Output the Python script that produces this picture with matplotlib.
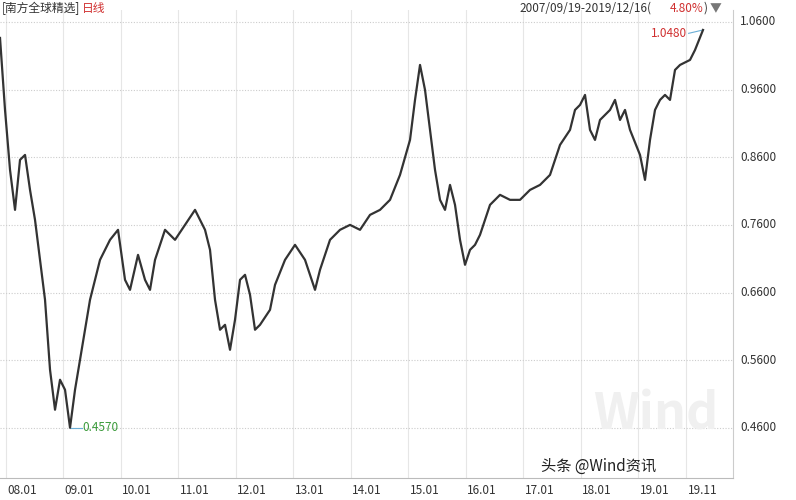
import matplotlib
matplotlib.use("Agg")
import matplotlib.pyplot as plt
import numpy as np

plt.rcParams['font.family'] = ['Noto Sans CJK SC', 'DejaVu Sans']

px = [0,5,10,15,20,25,30,35,40,45,50,55,60,65,70,75,80,85,90,95,100,110,118,125,130,138,145,150,155,165,175,185,195,205,210,215,220,225,230,235,240,245,250,255,260,270,275,285,295,305,315,320,330,340,350,360,370,380,390,400,410,415,420,425,430,435,440,445,450,455,460,465,470,475,480,490,500,510,520,530,540,550,560,570,575,580,585,590,595,600,610,615,620,625,630,640,645,650,655,660,665,670,675,680,690,695,703]
py = [38,110,170,210,160,155,190,220,260,300,370,410,380,390,428,390,360,330,300,280,260,240,230,280,290,255,280,290,260,230,240,225,210,230,250,300,330,325,350,320,280,275,295,330,325,310,285,260,245,260,290,270,240,230,225,230,215,210,200,175,140,100,65,90,130,170,200,210,185,205,240,265,250,245,235,205,195,200,200,190,185,175,145,130,110,105,95,130,140,120,110,100,120,110,130,155,180,140,110,100,95,100,70,65,60,50,30]
dates = [2008 + (x - 5.5) / 57.5 for x in px]
values = [round(1.06 - (y - 22) / 677, 4) for y in py]
tick_pos = [2008, 2009, 2010, 2011, 2012, 2013, 2014, 2015, 2016, 2017, 2018, 2019, 2019.833]
tick_lab = ["08.01","09.01","10.01","11.01","12.01","13.01","14.01","15.01","16.01","17.01","18.01","19.01","19.11"]
yticks = [0.46, 0.56, 0.66, 0.76, 0.86, 0.96, 1.06]

fig = plt.figure(figsize=(7.96, 5.0), dpi=100)
fig.text(0.745, 0.14, "Wind", fontsize=36, color='#f0f0f0', fontweight='bold', zorder=0)
ax = fig.add_axes([0, 0.044, 733/796, 0.936])
ax.patch.set_alpha(0)
ax.set_xlim(2007.904, 2020.652)
ax.set_ylim(0.386, 1.0777)
for t in tick_pos:
    ax.axvline(t, color='#e6e6e6', lw=0.8, zorder=0)
for y in yticks:
    ax.axhline(y, color='#cccccc', lw=0.8, ls=(0, (1, 1.5)), zorder=0)
ax.plot(dates, values, color='#333333', lw=1.6, zorder=3)
for s in ['top', 'left']:
    ax.spines[s].set_visible(False)
ax.spines['right'].set_color('#cccccc')
ax.spines['bottom'].set_color('#bbbbbb')
ax.set_xticks([]); ax.set_yticks([])
for t, l in zip(tick_pos, tick_lab):
    ax.text(t + 0.03, -0.012, l, transform=ax.get_xaxis_transform(), ha='left', va='top', fontsize=8.5, color='#333333')
for y in yticks:
    ax.text(1.01, y, f"{y:.4f}", transform=ax.get_yaxis_transform(), ha='left', va='center', fontsize=8.5, color='#333333')

i_min = int(np.argmin(values)); i_max = len(values) - 1
ax.plot([dates[i_min], dates[i_min] + 0.2], [values[i_min], values[i_min]], color='#6aaed6', lw=0.8)
ax.text(dates[i_min] + 0.22, values[i_min], "0.4570", color='#3a9a3a', fontsize=8.5, va='center')
ax.plot([dates[i_max], dates[i_max] - 0.25], [values[i_max], values[i_max] - 0.005], color='#6aaed6', lw=0.8)
ax.text(dates[i_max] - 0.27, values[i_max] - 0.005, "1.0480", color='#d03030', fontsize=8.5, va='center', ha='right')

fig.text(0.68, 0.058, "头条 @Wind资讯", fontsize=11, color='#222222')

fig.text(0.002, 0.983, "[南方全球精选]", fontsize=8.5, color='#333333', va='center')
fig.text(0.103, 0.983, "日线", fontsize=8.5, color='#d03030', va='center')
fig.text(0.653, 0.983, "2007/09/19-2019/12/16(", fontsize=8.5, color='#333333', va='center')
fig.text(0.8415, 0.983, "4.80%", fontsize=8.5, color='#d03030', va='center')
fig.text(0.8835, 0.983, ")", fontsize=8.5, color='#333333', va='center')
fig.text(0.891, 0.983, "▼", fontsize=8.5, color='#777777', va='center')
fig.savefig("out.png", dpi=100)
